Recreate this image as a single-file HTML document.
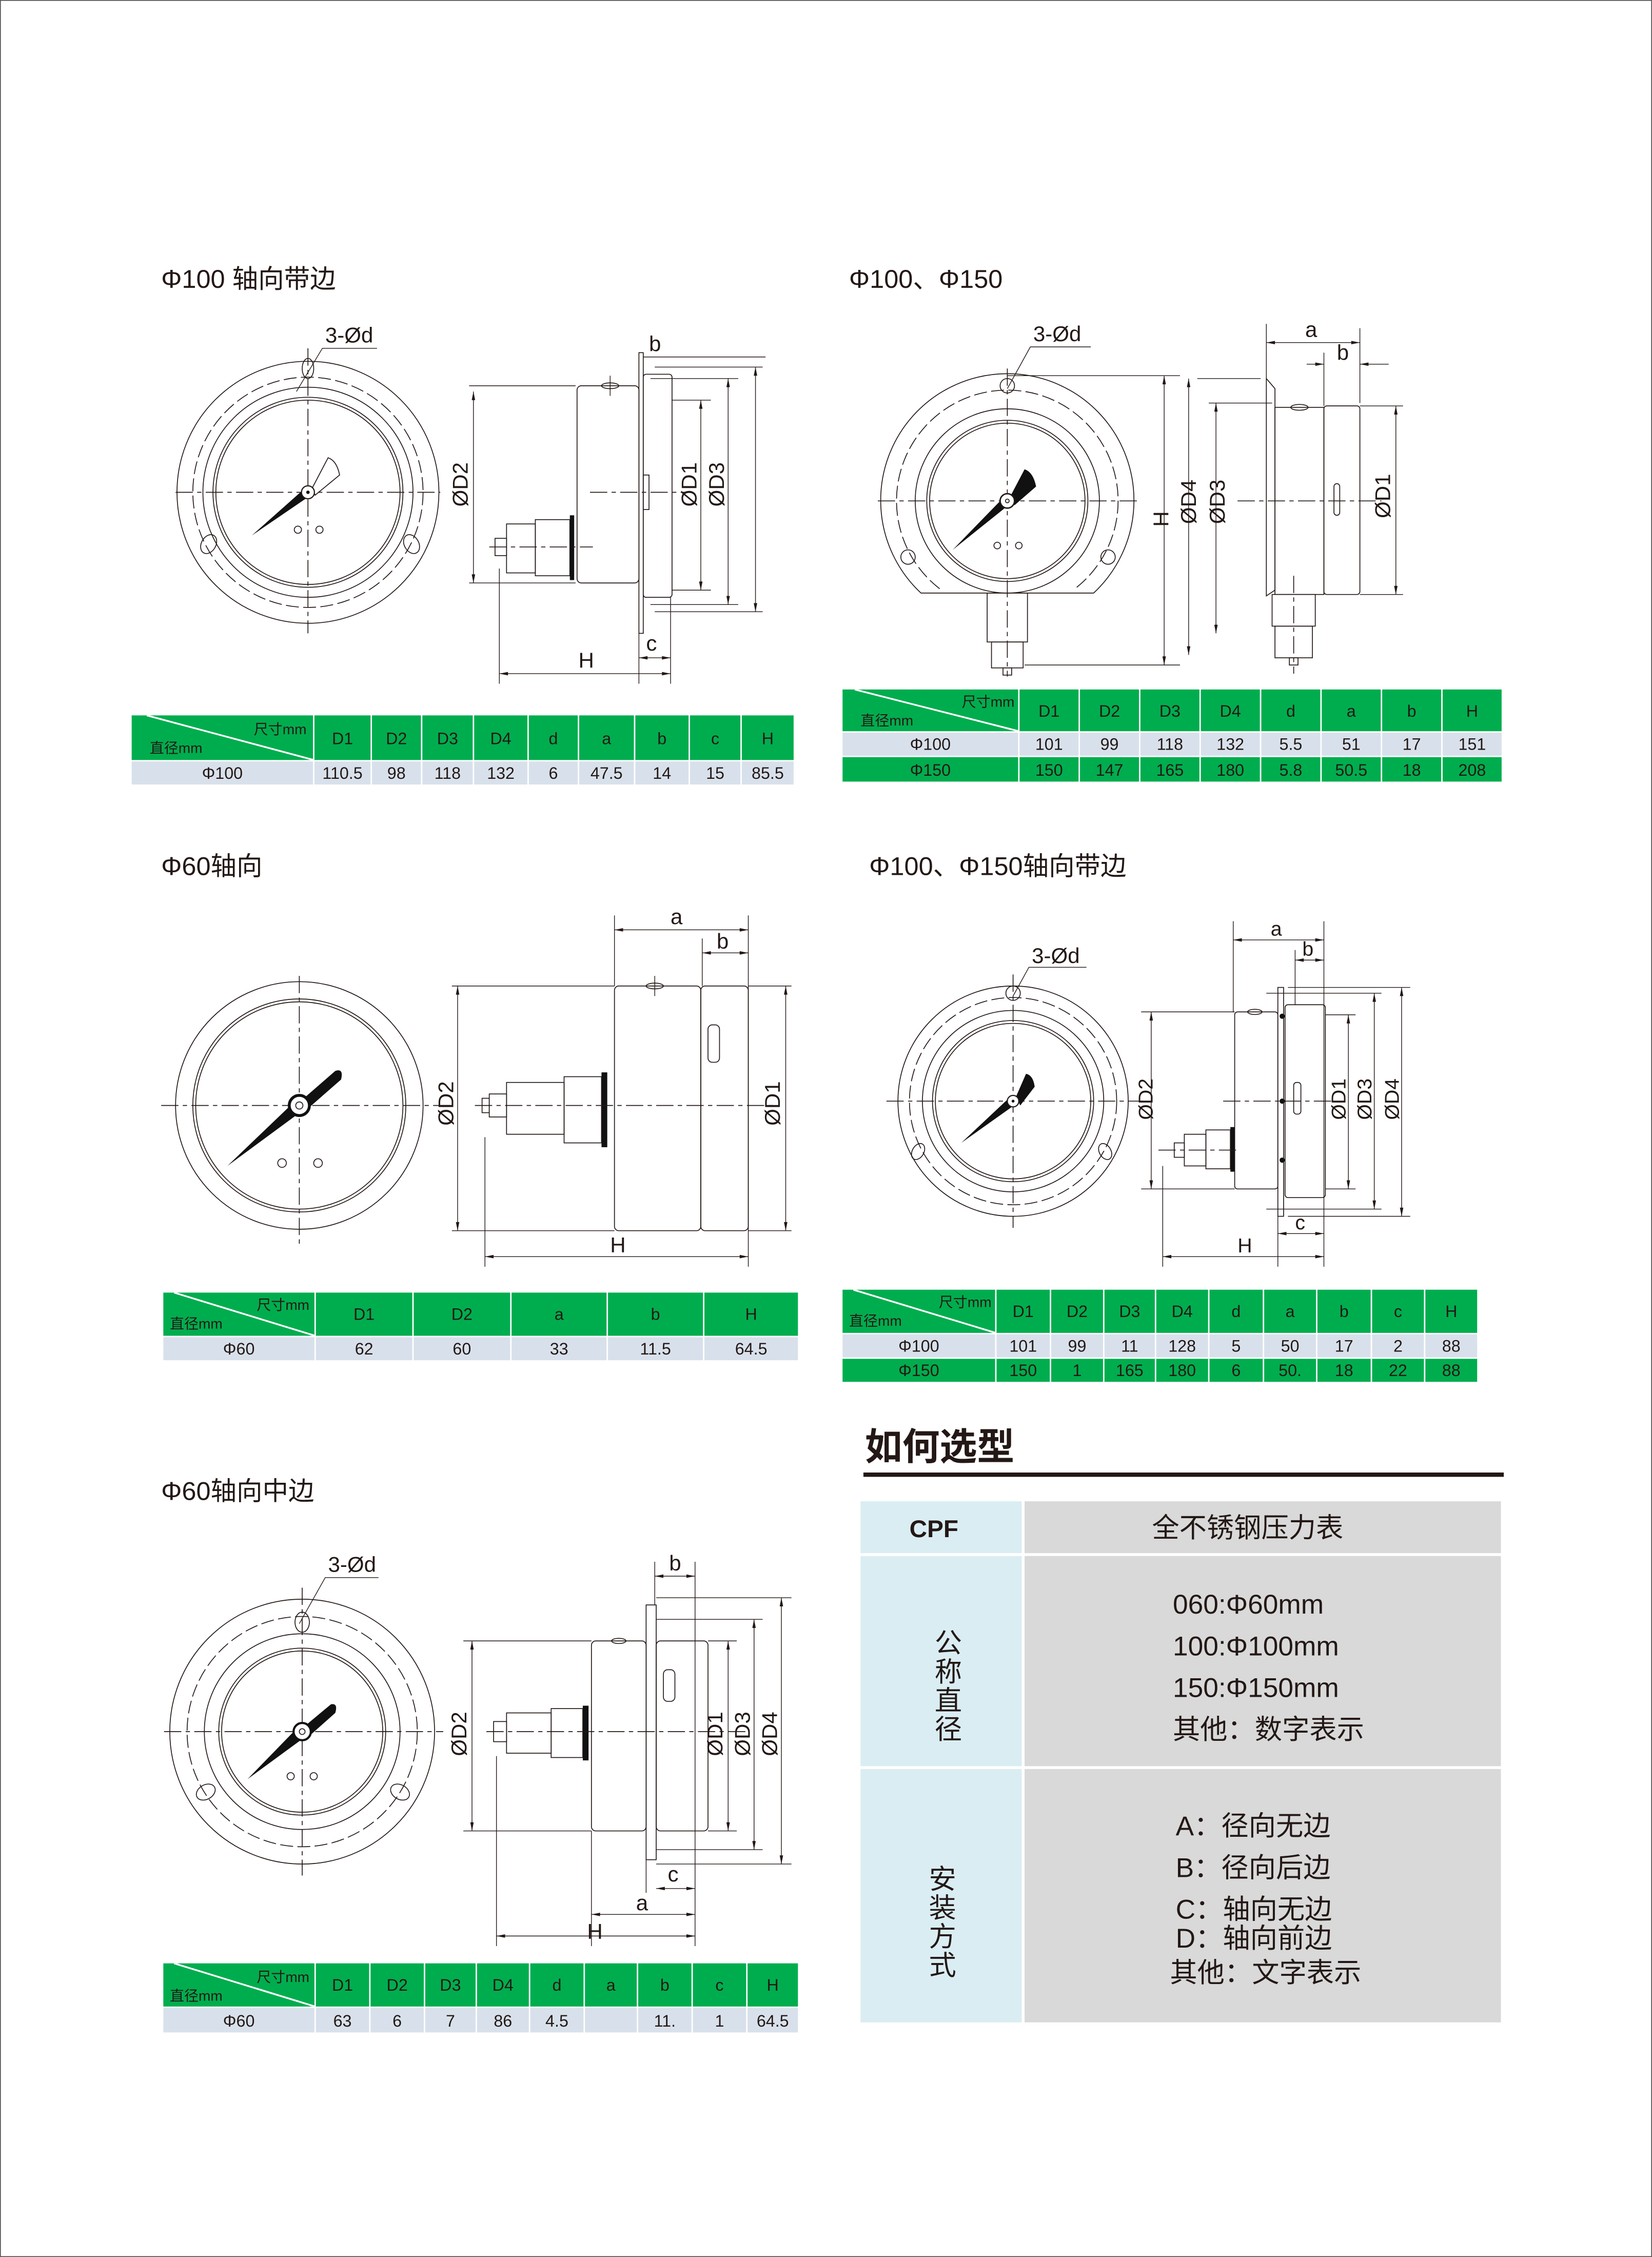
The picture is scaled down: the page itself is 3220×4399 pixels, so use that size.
<!DOCTYPE html>
<html><head><meta charset="utf-8">
<style>
html,body{margin:0;padding:0;background:#fff}
svg{display:block}
.s{fill:none;stroke:#231815;stroke-width:.6}
.d{fill:none;stroke:#231815;stroke-width:.6;stroke-dasharray:9 3}
.cl{fill:none;stroke:#231815;stroke-width:.6;stroke-dasharray:12 3 3 3}
.dm{fill:none;stroke:#231815;stroke-width:.5;marker-start:url(#a);marker-end:url(#a)}
.e{fill:none;stroke:#231815;stroke-width:.5}
.t{font-family:"Liberation Sans Narrow","Liberation Sans",sans-serif;fill:#231815;font-weight:300}
.tt{font-family:"Liberation Sans","Noto Sans CJK SC",sans-serif;fill:#231815;font-size:18px}
.tb{font-family:"Liberation Sans Narrow","Liberation Sans","Noto Sans CJK SC",sans-serif;fill:#231815;font-size:11.5px;text-anchor:middle}
.th{font-family:"Liberation Sans Narrow","Liberation Sans","Noto Sans CJK SC",sans-serif;fill:#231815;font-size:10px}
.g{fill:#00ad4e}.l{fill:#d8e1eb}
.k{fill:#111}
.sel{font-family:"Liberation Sans","Noto Sans CJK SC",sans-serif;fill:#231815;font-size:19px}
</style></head><body>
<svg width="3220" height="4399" viewBox="0 0 1148 1568" preserveAspectRatio="none" xmlns="http://www.w3.org/2000/svg">
<defs>
<marker id="a" viewBox="0 0 10 4" refX="10" refY="2" markerWidth="7" markerHeight="2.4" markerUnits="userSpaceOnUse" orient="auto-start-reverse"><path d="M0,0L10,2L0,4z" fill="#231815"/></marker>
</defs>
<rect x="0.3" y="0.3" width="1147.4" height="1567.4" fill="#fff" stroke="#555" stroke-width=".6"/>

<!-- Titles -->
<text class="tt" x="112" y="200">Φ100 轴向带边</text>
<text class="tt" x="590" y="200">Φ100、Φ150</text>
<text class="tt" x="112" y="608">Φ60轴向</text>
<text class="tt" x="604" y="608">Φ100、Φ150轴向带边</text>
<text class="tt" x="112" y="1042">Φ60轴向中边</text>

<!-- ============ Drawing 1 ============ -->
<g transform="translate(214,342)">
<circle class="s" r="91"/><circle class="d" r="80"/><circle class="s" r="73"/><circle class="s" r="66"/><circle class="s" r="64"/>
<ellipse class="s" cx="0" cy="-86" rx="4" ry="7"/>
<ellipse class="s" cx="-69" cy="36" rx="5" ry="7" transform="rotate(30 -69 36)"/>
<ellipse class="s" cx="72" cy="36" rx="5" ry="7" transform="rotate(-30 72 36)"/>
<line class="cl" x1="-92" y1="0" x2="92" y2="0"/><line class="cl" x1="0" y1="-100" x2="0" y2="98"/>
<polygon class="k" points="2,2 -39,30 -3,-2"/>
<path class="s" d="M3,-3 L14,-24 Q20,-22 22,-12 L5,2z"/>
<circle r="4.5" fill="#fff" stroke="#231815" stroke-width=".8"/><circle r="1.2" class="k"/>
<circle class="s" cx="-7" cy="26" r="2.5"/><circle class="s" cx="8" cy="26" r="2.5"/>
</g>
<text class="t" x="226" y="238" font-size="15">3-Ød</text>
<polyline class="e" points="262,242 224,242 206,272"/>
<!-- side 1 -->
<rect class="s" x="401" y="268" width="43" height="137" rx="3"/>
<rect class="s" x="444" y="245" width="3" height="195"/>
<rect class="s" x="447" y="260" width="20" height="155" rx="2"/>
<ellipse class="s" cx="424" cy="268" rx="6" ry="2"/><line class="e" x1="424" y1="261" x2="424" y2="275"/>
<rect class="s" x="447" y="330" width="4" height="24"/>
<rect class="k" x="396" y="358" width="3" height="45"/>
<rect class="s" x="372" y="361" width="24" height="39"/>
<rect class="s" x="352" y="364" width="20" height="34"/>
<rect class="s" x="344" y="374" width="8" height="12"/>
<line class="cl" x1="340" y1="380" x2="412" y2="380"/>
<line class="cl" x1="410" y1="342" x2="480" y2="342"/>
<line class="e" x1="326" y1="268" x2="400" y2="268"/><line class="e" x1="326" y1="405" x2="400" y2="405"/>
<line class="dm" x1="329" y1="272" x2="329" y2="405"/>
<text class="t" font-size="15" transform="translate(325,352) rotate(-90)">ØD2</text>
<line class="e" x1="467" y1="278" x2="494" y2="278"/><line class="e" x1="467" y1="410" x2="494" y2="410"/>
<line class="dm" x1="487" y1="278" x2="487" y2="410"/>
<text class="t" font-size="15" transform="translate(484,352) rotate(-90)">ØD1</text>
<line class="e" x1="452" y1="263" x2="513" y2="263"/><line class="e" x1="452" y1="420" x2="513" y2="420"/>
<line class="dm" x1="506" y1="263" x2="506" y2="420"/>
<text class="t" font-size="15" transform="translate(503,352) rotate(-90)">ØD3</text>
<line class="e" x1="455" y1="255" x2="530" y2="255"/><line class="e" x1="455" y1="425" x2="530" y2="425"/>
<line class="dm" x1="525" y1="255" x2="525" y2="425"/>
<line class="e" x1="447" y1="248" x2="532" y2="248"/>
<text class="t" x="451" y="244" font-size="15">b</text>
<line class="e" x1="347" y1="395" x2="347" y2="475"/><line class="e" x1="466" y1="415" x2="466" y2="475"/><line class="e" x1="444" y1="440" x2="444" y2="475"/>
<line class="dm" x1="347" y1="468" x2="466" y2="468"/>
<text class="t" x="402" y="464" font-size="15">H</text>
<line class="dm" x1="444" y1="457" x2="466" y2="457"/>
<text class="t" x="449" y="452" font-size="15">c</text>

<!-- ============ Drawing 2 ============ -->
<g transform="translate(700,348)">
<path class="s" d="M-60,64 A88,88 0 1 1 60,64 Z"/>
<path class="d" d="M-47,61 A77,77 0 1 1 47,61"/>
<circle class="s" r="64"/><circle class="s" r="56"/><circle class="s" r="54"/>
<rect class="s" x="-14" y="64" width="28" height="34" fill="#fff"/>
<rect class="s" x="-11" y="98" width="22" height="18"/>
<rect class="s" x="-3" y="116" width="6" height="5"/>
<circle class="s" cx="0" cy="-80" r="5"/><circle class="s" cx="-69" cy="39" r="5"/><circle class="s" cx="70" cy="39" r="5"/>
<line class="cl" x1="-90" y1="0" x2="92" y2="0"/><line class="cl" x1="0" y1="-92" x2="0" y2="122"/>
<polygon class="k" points="2,2 -38,34 -3,-2"/>
<path class="k" d="M2,-3 L12,-22 Q18,-20 20,-10 L5,3z"/>
<circle r="5" fill="#fff" stroke="#231815" stroke-width="1"/><circle r="1.3" class="s"/>
<circle class="s" cx="-7" cy="31" r="2.3"/><circle class="s" cx="8" cy="31" r="2.3"/>
</g>
<text class="t" x="718" y="237" font-size="15">3-Ød</text>
<polyline class="e" points="758,241 716,241 700,270"/>
<!-- side 2 -->
<polygon class="s" points="880,263 886,270 886,410 880,414"/>
<rect class="s" x="886" y="283" width="34" height="130"/>
<rect class="s" x="920" y="282" width="25" height="131" rx="2"/>
<rect class="s" x="927" y="336" width="4" height="22" rx="2"/>
<ellipse class="s" cx="903" cy="283" rx="6" ry="2"/>
<rect class="s" x="884" y="413" width="30" height="22"/>
<rect class="s" x="886" y="435" width="26" height="22"/>
<rect class="s" x="896" y="457" width="6" height="5"/>
<line class="cl" x1="860" y1="348" x2="960" y2="348"/><line class="cl" x1="899" y1="400" x2="899" y2="468"/>
<line class="e" x1="700" y1="261" x2="820" y2="261"/><line class="e" x1="712" y1="462" x2="820" y2="462"/>
<line class="dm" x1="809" y1="261" x2="809" y2="462"/>
<text class="t" font-size="15" transform="translate(812,366) rotate(-90)">H</text>
<line class="e" x1="832" y1="263" x2="876" y2="263"/>
<line class="dm" x1="826" y1="263" x2="826" y2="455"/>
<text class="t" font-size="15" transform="translate(831,364) rotate(-90)">ØD4</text>
<line class="e" x1="840" y1="280" x2="884" y2="280"/>
<line class="dm" x1="845" y1="280" x2="845" y2="440"/>
<text class="t" font-size="15" transform="translate(851,364) rotate(-90)">ØD3</text>
<line class="e" x1="945" y1="282" x2="975" y2="282"/><line class="e" x1="945" y1="413" x2="975" y2="413"/>
<line class="dm" x1="970" y1="282" x2="970" y2="413"/>
<text class="t" font-size="15" transform="translate(966,360) rotate(-90)">ØD1</text>
<line class="e" x1="880" y1="225" x2="880" y2="265"/><line class="e" x1="945" y1="228" x2="945" y2="280"/>
<line class="dm" x1="880" y1="238" x2="945" y2="238"/>
<text class="t" x="907" y="234" font-size="15">a</text>
<line class="e" x1="920" y1="245" x2="920" y2="282"/>
<line class="e" x1="908" y1="253" x2="920" y2="253" marker-end="url(#a)"/><line class="e" x1="965" y1="253" x2="945" y2="253" marker-end="url(#a)"/>
<text class="t" x="929" y="250" font-size="15">b</text>

<!-- ============ Drawing 3 ============ -->
<g transform="translate(208,768)">
<circle class="s" r="86"/><circle class="s" r="74"/><circle class="s" r="72"/>
<line class="cl" x1="-96" y1="0" x2="106" y2="0"/><line class="cl" x1="0" y1="-90" x2="0" y2="98"/>
<polygon class="k" points="3,3 -50,42 -3,-3"/>
<path class="k" d="M2,-4 L25,-24 Q31,-26 29,-18 L5,3z"/>
<circle r="7" fill="#fff" stroke="#111" stroke-width="2"/><circle r="2.5" class="s"/>
<circle class="s" cx="-12" cy="40" r="3"/><circle class="s" cx="13" cy="40" r="3"/>
</g>
<rect class="s" x="427" y="685" width="60" height="170" rx="3"/>
<rect class="s" x="487" y="685" width="33" height="170" rx="3"/>
<rect class="s" x="492" y="712" width="8" height="26" rx="3"/>
<ellipse class="s" cx="455" cy="685" rx="6" ry="2"/><line class="e" x1="455" y1="678" x2="455" y2="692"/>
<rect class="k" x="418" y="745" width="4" height="52"/>
<rect class="s" x="392" y="748" width="26" height="46"/>
<rect class="s" x="352" y="752" width="40" height="36"/>
<rect class="s" x="340" y="760" width="12" height="16"/>
<rect class="s" x="335" y="763" width="5" height="10"/>
<line class="cl" x1="330" y1="768" x2="540" y2="768"/>
<line class="e" x1="314" y1="685" x2="427" y2="685"/><line class="e" x1="314" y1="855" x2="427" y2="855"/>
<line class="dm" x1="318" y1="685" x2="318" y2="855"/>
<text class="t" font-size="15" transform="translate(315,782) rotate(-90)">ØD2</text>
<line class="e" x1="520" y1="685" x2="550" y2="685"/><line class="e" x1="520" y1="855" x2="550" y2="855"/>
<line class="dm" x1="546" y1="685" x2="546" y2="855"/>
<text class="t" font-size="15" transform="translate(542,782) rotate(-90)">ØD1</text>
<line class="e" x1="427" y1="636" x2="427" y2="685"/><line class="e" x1="520" y1="636" x2="520" y2="880"/>
<line class="dm" x1="427" y1="646" x2="520" y2="646"/>
<text class="t" x="466" y="642" font-size="15">a</text>
<line class="e" x1="488" y1="652" x2="488" y2="685"/>
<line class="dm" x1="488" y1="662" x2="520" y2="662"/>
<text class="t" x="498" y="659" font-size="15">b</text>
<line class="e" x1="337" y1="790" x2="337" y2="880"/>
<line class="dm" x1="337" y1="873" x2="520" y2="873"/>
<text class="t" x="424" y="870" font-size="15">H</text>

<!-- ============ Drawing 4 ============ -->
<g transform="translate(704,765)">
<circle class="s" r="80"/><circle class="d" r="72"/><circle class="s" r="63"/><circle class="s" r="56"/><circle class="s" r="54"/>
<circle class="s" cx="0" cy="-75" r="5"/>
<ellipse class="s" cx="-66" cy="35" rx="4" ry="6" transform="rotate(30 -66 35)"/>
<ellipse class="s" cx="64" cy="35" rx="4" ry="6" transform="rotate(-30 64 35)"/>
<line class="cl" x1="-88" y1="0" x2="90" y2="0"/><line class="cl" x1="0" y1="-88" x2="0" y2="88"/>
<polygon class="k" points="2,2 -36,29 -3,-2"/>
<path class="k" d="M2,-3 L9,-19 Q14,-18 15,-10 L5,3z"/>
<circle r="4" fill="#fff" stroke="#231815" stroke-width=".8"/><circle r="1" class="k"/>
</g>
<text class="t" x="717" y="669" font-size="15">3-Ød</text>
<polyline class="e" points="755,672 715,672 704,692"/>
<rect class="s" x="858" y="703" width="30" height="123" rx="2"/>
<rect class="s" x="888" y="686" width="4" height="159"/>
<rect class="s" x="893" y="698" width="28" height="134" rx="2"/>
<circle class="k" cx="891" cy="706" r="1.8"/><circle class="k" cx="891" cy="765" r="1.8"/><circle class="k" cx="891" cy="806" r="1.8"/>
<rect class="s" x="899" y="752" width="5" height="22" rx="2"/>
<ellipse class="s" cx="872" cy="703" rx="5" ry="1.8"/>
<rect class="k" x="855" y="783" width="3" height="31"/>
<rect class="s" x="838" y="785" width="17" height="27"/>
<rect class="s" x="823" y="788" width="15" height="22"/>
<rect class="s" x="816" y="794" width="7" height="10"/>
<line class="cl" x1="850" y1="765" x2="925" y2="765"/><line class="cl" x1="805" y1="799" x2="862" y2="799"/>
<line class="e" x1="793" y1="703" x2="858" y2="703"/><line class="e" x1="793" y1="826" x2="858" y2="826"/>
<line class="dm" x1="800" y1="703" x2="800" y2="826"/>
<text class="t" font-size="14" transform="translate(801,778) rotate(-90)">ØD2</text>
<line class="e" x1="921" y1="705" x2="942" y2="705"/><line class="e" x1="921" y1="826" x2="942" y2="826"/>
<line class="dm" x1="937" y1="705" x2="937" y2="826"/>
<text class="t" font-size="14" transform="translate(935,778) rotate(-90)">ØD1</text>
<line class="e" x1="880" y1="690" x2="960" y2="690"/><line class="e" x1="880" y1="840" x2="960" y2="840"/>
<line class="dm" x1="955" y1="690" x2="955" y2="840"/>
<text class="t" font-size="14" transform="translate(953,778) rotate(-90)">ØD3</text>
<line class="e" x1="895" y1="686" x2="980" y2="686"/><line class="e" x1="895" y1="845" x2="980" y2="845"/>
<line class="dm" x1="974" y1="686" x2="974" y2="845"/>
<text class="t" font-size="14" transform="translate(972,778) rotate(-90)">ØD4</text>
<line class="e" x1="857" y1="640" x2="857" y2="703"/><line class="e" x1="920" y1="640" x2="920" y2="880"/>
<line class="dm" x1="857" y1="653" x2="920" y2="653"/>
<text class="t" x="883" y="650" font-size="14">a</text>
<line class="e" x1="900" y1="660" x2="900" y2="698"/>
<line class="dm" x1="900" y1="667" x2="920" y2="667"/>
<text class="t" x="905" y="664" font-size="14">b</text>
<line class="e" x1="888" y1="845" x2="888" y2="880"/>
<line class="dm" x1="888" y1="857" x2="920" y2="857"/>
<text class="t" x="900" y="854" font-size="14">c</text>
<line class="e" x1="808" y1="810" x2="808" y2="880"/>
<line class="dm" x1="808" y1="873" x2="920" y2="873"/>
<text class="t" x="860" y="870" font-size="14">H</text>

<!-- ============ Drawing 5 ============ -->
<g transform="translate(210,1203)">
<circle class="s" r="92"/><circle class="d" r="80"/><circle class="s" r="68"/><circle class="s" r="58"/><circle class="s" r="56"/>
<ellipse class="s" cx="0" cy="-76" rx="5" ry="7"/>
<ellipse class="s" cx="-67" cy="42" rx="5" ry="7" transform="rotate(60 -67 42)"/>
<ellipse class="s" cx="68" cy="42" rx="5" ry="7" transform="rotate(-60 68 42)"/>
<line class="cl" x1="-96" y1="0" x2="98" y2="0"/><line class="cl" x1="0" y1="-100" x2="0" y2="100"/>
<polygon class="k" points="3,3 -38,33 -3,-3"/>
<path class="k" d="M2,-4 L20,-19 Q25,-20 23,-13 L5,3z"/>
<circle r="6" fill="#fff" stroke="#111" stroke-width="1.5"/><circle r="2" class="s"/>
<circle class="s" cx="-8" cy="31" r="2.5"/><circle class="s" cx="8" cy="31" r="2.5"/>
</g>
<text class="t" x="228" y="1092" font-size="15">3-Ød</text>
<polyline class="e" points="263,1096 226,1096 208,1128"/>
<rect class="s" x="411" y="1140" width="38" height="132" rx="3"/>
<rect class="s" x="449" y="1115" width="7" height="177"/>
<rect class="s" x="456" y="1140" width="36" height="132" rx="3"/>
<rect class="s" x="461" y="1160" width="8" height="22" rx="3"/>
<ellipse class="s" cx="430" cy="1140" rx="5" ry="1.8"/>
<rect class="k" x="405" y="1185" width="4" height="38"/>
<rect class="s" x="383" y="1187" width="22" height="34"/>
<rect class="s" x="352" y="1190" width="31" height="28"/>
<rect class="s" x="343" y="1196" width="9" height="14"/>
<line class="cl" x1="338" y1="1203" x2="520" y2="1203"/>
<line class="e" x1="322" y1="1140" x2="411" y2="1140"/><line class="e" x1="322" y1="1272" x2="411" y2="1272"/>
<line class="dm" x1="328" y1="1140" x2="328" y2="1272"/>
<text class="t" font-size="15" transform="translate(324,1220) rotate(-90)">ØD2</text>
<line class="e" x1="492" y1="1140" x2="512" y2="1140"/><line class="e" x1="492" y1="1272" x2="512" y2="1272"/>
<line class="dm" x1="506" y1="1140" x2="506" y2="1272"/>
<text class="t" font-size="15" transform="translate(502,1220) rotate(-90)">ØD1</text>
<line class="e" x1="456" y1="1125" x2="530" y2="1125"/><line class="e" x1="456" y1="1285" x2="530" y2="1285"/>
<line class="dm" x1="524" y1="1125" x2="524" y2="1285"/>
<text class="t" font-size="15" transform="translate(521,1220) rotate(-90)">ØD3</text>
<line class="e" x1="456" y1="1110" x2="550" y2="1110"/><line class="e" x1="456" y1="1295" x2="550" y2="1295"/>
<line class="dm" x1="543" y1="1110" x2="543" y2="1295"/>
<text class="t" font-size="15" transform="translate(540,1220) rotate(-90)">ØD4</text>
<line class="e" x1="455" y1="1085" x2="455" y2="1115"/><line class="e" x1="483" y1="1085" x2="483" y2="1352"/>
<line class="dm" x1="455" y1="1095" x2="483" y2="1095"/>
<text class="t" x="465" y="1091" font-size="15">b</text>
<line class="e" x1="449" y1="1292" x2="449" y2="1315"/>
<line class="dm" x1="456" y1="1312" x2="483" y2="1312"/>
<text class="t" x="464" y="1307" font-size="15">c</text>
<line class="e" x1="411" y1="1272" x2="411" y2="1352"/>
<line class="dm" x1="411" y1="1330" x2="483" y2="1330"/>
<text class="t" x="442" y="1327" font-size="15">a</text>
<line class="e" x1="345" y1="1220" x2="345" y2="1352"/>
<line class="dm" x1="345" y1="1345" x2="483" y2="1345"/>
<text class="t" x="408" y="1347" font-size="15">H</text>

<!-- ============ Table 1 ============ -->
<g>
<rect class="g" x="91.5" y="497" width="126" height="31"/>
<rect class="g" x="218.5" y="497" width="39" height="31"/><rect class="g" x="258.5" y="497" width="34" height="31"/><rect class="g" x="293.5" y="497" width="35" height="31"/><rect class="g" x="329.5" y="497" width="37" height="31"/><rect class="g" x="367.5" y="497" width="34" height="31"/><rect class="g" x="402.5" y="497" width="38" height="31"/><rect class="g" x="441.5" y="497" width="37" height="31"/><rect class="g" x="479.5" y="497" width="35" height="31"/><rect class="g" x="515.5" y="497" width="36" height="31"/>
<rect class="l" x="91.5" y="529" width="126" height="16"/>
<rect class="l" x="218.5" y="529" width="39" height="16"/><rect class="l" x="258.5" y="529" width="34" height="16"/><rect class="l" x="293.5" y="529" width="35" height="16"/><rect class="l" x="329.5" y="529" width="37" height="16"/><rect class="l" x="367.5" y="529" width="34" height="16"/><rect class="l" x="402.5" y="529" width="38" height="16"/><rect class="l" x="441.5" y="529" width="37" height="16"/><rect class="l" x="479.5" y="529" width="35" height="16"/><rect class="l" x="515.5" y="529" width="36" height="16"/>
<line x1="102" y1="497" x2="218" y2="528" stroke="#fff" stroke-width="1.2"/>
<text class="th" x="213" y="510" text-anchor="end">尺寸mm</text><text class="th" x="104" y="523">直径mm</text>
<text class="tb" y="517"><tspan x="238">D1</tspan><tspan x="275.5">D2</tspan><tspan x="311">D3</tspan><tspan x="348">D4</tspan><tspan x="384.5">d</tspan><tspan x="421.5">a</tspan><tspan x="460">b</tspan><tspan x="497">c</tspan><tspan x="533.5">H</tspan></text>
<text class="tb" y="541"><tspan x="154.5">Φ100</tspan><tspan x="238">110.5</tspan><tspan x="275.5">98</tspan><tspan x="311">118</tspan><tspan x="348">132</tspan><tspan x="384.5">6</tspan><tspan x="421.5">47.5</tspan><tspan x="460">14</tspan><tspan x="497">15</tspan><tspan x="533.5">85.5</tspan></text>
</g>

<!-- ============ Table 2 ============ -->
<g>
<rect class="g" x="585.5" y="479" width="122" height="29"/>
<rect class="g" x="708.5" y="479" width="41" height="29"/><rect class="g" x="750.5" y="479" width="41" height="29"/><rect class="g" x="792.5" y="479" width="41" height="29"/><rect class="g" x="834.5" y="479" width="41" height="29"/><rect class="g" x="876.5" y="479" width="41" height="29"/><rect class="g" x="918.5" y="479" width="41" height="29"/><rect class="g" x="960.5" y="479" width="41" height="29"/><rect class="g" x="1002.5" y="479" width="41" height="29"/>
<rect class="l" x="585.5" y="509" width="122" height="16"/>
<rect class="l" x="708.5" y="509" width="41" height="16"/><rect class="l" x="750.5" y="509" width="41" height="16"/><rect class="l" x="792.5" y="509" width="41" height="16"/><rect class="l" x="834.5" y="509" width="41" height="16"/><rect class="l" x="876.5" y="509" width="41" height="16"/><rect class="l" x="918.5" y="509" width="41" height="16"/><rect class="l" x="960.5" y="509" width="41" height="16"/><rect class="l" x="1002.5" y="509" width="41" height="16"/>
<rect class="g" x="585.5" y="526" width="122" height="17"/>
<rect class="g" x="708.5" y="526" width="41" height="17"/><rect class="g" x="750.5" y="526" width="41" height="17"/><rect class="g" x="792.5" y="526" width="41" height="17"/><rect class="g" x="834.5" y="526" width="41" height="17"/><rect class="g" x="876.5" y="526" width="41" height="17"/><rect class="g" x="918.5" y="526" width="41" height="17"/><rect class="g" x="960.5" y="526" width="41" height="17"/><rect class="g" x="1002.5" y="526" width="41" height="17"/>
<line x1="594" y1="479" x2="708" y2="508" stroke="#fff" stroke-width="1.2"/>
<text class="th" x="705" y="491" text-anchor="end">尺寸mm</text><text class="th" x="598" y="504">直径mm</text>
<text class="tb" y="498"><tspan x="729">D1</tspan><tspan x="771">D2</tspan><tspan x="813">D3</tspan><tspan x="855">D4</tspan><tspan x="897">d</tspan><tspan x="939">a</tspan><tspan x="981">b</tspan><tspan x="1023">H</tspan></text>
<text class="tb" y="521"><tspan x="646.5">Φ100</tspan><tspan x="729">101</tspan><tspan x="771">99</tspan><tspan x="813">118</tspan><tspan x="855">132</tspan><tspan x="897">5.5</tspan><tspan x="939">51</tspan><tspan x="981">17</tspan><tspan x="1023">151</tspan></text>
<text class="tb" y="539"><tspan x="646.5">Φ150</tspan><tspan x="729">150</tspan><tspan x="771">147</tspan><tspan x="813">165</tspan><tspan x="855">180</tspan><tspan x="897">5.8</tspan><tspan x="939">50.5</tspan><tspan x="981">18</tspan><tspan x="1023">208</tspan></text>
</g>

<!-- ============ Table 3 ============ -->
<g>
<rect class="g" x="113.5" y="898" width="105" height="30"/>
<rect class="g" x="219.5" y="898" width="67" height="30"/><rect class="g" x="287.5" y="898" width="67" height="30"/><rect class="g" x="355.5" y="898" width="66" height="30"/><rect class="g" x="422.5" y="898" width="66" height="30"/><rect class="g" x="489.5" y="898" width="65" height="30"/>
<rect class="l" x="113.5" y="929" width="105" height="16"/>
<rect class="l" x="219.5" y="929" width="67" height="16"/><rect class="l" x="287.5" y="929" width="67" height="16"/><rect class="l" x="355.5" y="929" width="66" height="16"/><rect class="l" x="422.5" y="929" width="66" height="16"/><rect class="l" x="489.5" y="929" width="65" height="16"/>
<line x1="121" y1="898" x2="219" y2="928" stroke="#fff" stroke-width="1.2"/>
<text class="th" x="215" y="910" text-anchor="end">尺寸mm</text><text class="th" x="118" y="923">直径mm</text>
<text class="tb" y="917"><tspan x="253">D1</tspan><tspan x="321">D2</tspan><tspan x="388.5">a</tspan><tspan x="455.5">b</tspan><tspan x="522">H</tspan></text>
<text class="tb" y="941"><tspan x="166">Φ60</tspan><tspan x="253">62</tspan><tspan x="321">60</tspan><tspan x="388.5">33</tspan><tspan x="455.5">11.5</tspan><tspan x="522">64.5</tspan></text>
</g>

<!-- ============ Table 4 ============ -->
<g>
<rect class="g" x="585.5" y="896" width="106" height="30"/>
<rect class="g" x="692.5" y="896" width="37" height="30"/><rect class="g" x="730.5" y="896" width="36" height="30"/><rect class="g" x="767.5" y="896" width="35" height="30"/><rect class="g" x="803.5" y="896" width="36" height="30"/><rect class="g" x="840.5" y="896" width="37" height="30"/><rect class="g" x="878.5" y="896" width="36" height="30"/><rect class="g" x="915.5" y="896" width="37" height="30"/><rect class="g" x="953.5" y="896" width="36" height="30"/><rect class="g" x="990.5" y="896" width="36" height="30"/>
<rect class="l" x="585.5" y="927" width="106" height="16"/>
<rect class="l" x="692.5" y="927" width="37" height="16"/><rect class="l" x="730.5" y="927" width="36" height="16"/><rect class="l" x="767.5" y="927" width="35" height="16"/><rect class="l" x="803.5" y="927" width="36" height="16"/><rect class="l" x="840.5" y="927" width="37" height="16"/><rect class="l" x="878.5" y="927" width="36" height="16"/><rect class="l" x="915.5" y="927" width="37" height="16"/><rect class="l" x="953.5" y="927" width="36" height="16"/><rect class="l" x="990.5" y="927" width="36" height="16"/>
<rect class="g" x="585.5" y="944" width="106" height="16"/>
<rect class="g" x="692.5" y="944" width="37" height="16"/><rect class="g" x="730.5" y="944" width="36" height="16"/><rect class="g" x="767.5" y="944" width="35" height="16"/><rect class="g" x="803.5" y="944" width="36" height="16"/><rect class="g" x="840.5" y="944" width="37" height="16"/><rect class="g" x="878.5" y="944" width="36" height="16"/><rect class="g" x="915.5" y="944" width="37" height="16"/><rect class="g" x="953.5" y="944" width="36" height="16"/><rect class="g" x="990.5" y="944" width="36" height="16"/>
<line x1="593" y1="896" x2="692" y2="926" stroke="#fff" stroke-width="1.2"/>
<text class="th" x="689" y="908" text-anchor="end">尺寸mm</text><text class="th" x="590" y="921">直径mm</text>
<text class="tb" y="915"><tspan x="711">D1</tspan><tspan x="748.5">D2</tspan><tspan x="785">D3</tspan><tspan x="821.5">D4</tspan><tspan x="859">d</tspan><tspan x="896.5">a</tspan><tspan x="934">b</tspan><tspan x="971.5">c</tspan><tspan x="1008.5">H</tspan></text>
<text class="tb" y="939"><tspan x="638.5">Φ100</tspan><tspan x="711">101</tspan><tspan x="748.5">99</tspan><tspan x="785">11</tspan><tspan x="821.5">128</tspan><tspan x="859">5</tspan><tspan x="896.5">50</tspan><tspan x="934">17</tspan><tspan x="971.5">2</tspan><tspan x="1008.5">88</tspan></text>
<text class="tb" y="956"><tspan x="638.5">Φ150</tspan><tspan x="711">150</tspan><tspan x="748.5">1</tspan><tspan x="785">165</tspan><tspan x="821.5">180</tspan><tspan x="859">6</tspan><tspan x="896.5">50.</tspan><tspan x="934">18</tspan><tspan x="971.5">22</tspan><tspan x="1008.5">88</tspan></text>
</g>

<!-- ============ Table 5 ============ -->
<g>
<rect class="g" x="113.5" y="1364" width="105" height="30"/>
<rect class="g" x="219.5" y="1364" width="37" height="30"/><rect class="g" x="257.5" y="1364" width="37" height="30"/><rect class="g" x="295.5" y="1364" width="35" height="30"/><rect class="g" x="331.5" y="1364" width="36" height="30"/><rect class="g" x="368.5" y="1364" width="37" height="30"/><rect class="g" x="406.5" y="1364" width="36" height="30"/><rect class="g" x="443.5" y="1364" width="37" height="30"/><rect class="g" x="481.5" y="1364" width="37" height="30"/><rect class="g" x="519.5" y="1364" width="35" height="30"/>
<rect class="l" x="113.5" y="1395" width="105" height="17"/>
<rect class="l" x="219.5" y="1395" width="37" height="17"/><rect class="l" x="257.5" y="1395" width="37" height="17"/><rect class="l" x="295.5" y="1395" width="35" height="17"/><rect class="l" x="331.5" y="1395" width="36" height="17"/><rect class="l" x="368.5" y="1395" width="37" height="17"/><rect class="l" x="406.5" y="1395" width="36" height="17"/><rect class="l" x="443.5" y="1395" width="37" height="17"/><rect class="l" x="481.5" y="1395" width="37" height="17"/><rect class="l" x="519.5" y="1395" width="35" height="17"/>
<line x1="121" y1="1364" x2="219" y2="1394" stroke="#fff" stroke-width="1.2"/>
<text class="th" x="215" y="1377" text-anchor="end">尺寸mm</text><text class="th" x="118" y="1390">直径mm</text>
<text class="tb" y="1383"><tspan x="238">D1</tspan><tspan x="276">D2</tspan><tspan x="313">D3</tspan><tspan x="349.5">D4</tspan><tspan x="387">d</tspan><tspan x="424.5">a</tspan><tspan x="462">b</tspan><tspan x="500">c</tspan><tspan x="537">H</tspan></text>
<text class="tb" y="1408"><tspan x="166">Φ60</tspan><tspan x="238">63</tspan><tspan x="276">6</tspan><tspan x="313">7</tspan><tspan x="349.5">86</tspan><tspan x="387">4.5</tspan><tspan x="462">11.</tspan><tspan x="500">1</tspan><tspan x="537">64.5</tspan></text>
</g>

<!-- ============ Selection ============ -->
<text x="601" y="1014" font-family="Liberation Sans,Noto Sans CJK SC,sans-serif" font-weight="bold" font-size="26" fill="#231815">如何选型</text>
<rect x="600" y="1023" width="445" height="3" fill="#231815"/>
<rect x="598" y="1043" width="112" height="36" fill="#daedf3"/>
<rect x="712" y="1043" width="331" height="36" fill="#d9d9d9"/>
<rect x="598" y="1081" width="112" height="146" fill="#daedf3"/>
<rect x="712" y="1081" width="331" height="146" fill="#d9d9d9"/>
<rect x="598" y="1229" width="112" height="176" fill="#daedf3"/>
<rect x="712" y="1229" width="331" height="176" fill="#d9d9d9"/>
<text x="649" y="1068" text-anchor="middle" font-family="Liberation Sans,sans-serif" font-weight="bold" font-size="17" fill="#231815">CPF</text>
<text class="sel" x="867" y="1068" text-anchor="middle">全不锈钢压力表</text>
<text class="sel" x="815" y="1121">060:Φ60mm</text>
<text class="sel" x="815" y="1150">100:Φ100mm</text>
<text class="sel" x="815" y="1179">150:Φ150mm</text>
<text class="sel" x="815" y="1208">其他：数字表示</text>
<text class="sel" x="817" y="1275">A：径向无边</text>
<text class="sel" x="817" y="1304">B：径向后边</text>
<text class="sel" x="817" y="1333">C：轴向无边</text>
<text class="sel" x="817" y="1353">D：轴向前边</text>
<text class="sel" x="813" y="1377">其他：文字表示</text>
<text class="sel" text-anchor="middle" x="659"><tspan x="659" y="1148">公</tspan><tspan x="659" y="1168">称</tspan><tspan x="659" y="1188">直</tspan><tspan x="659" y="1208">径</tspan></text>
<text class="sel" text-anchor="middle" x="655"><tspan x="655" y="1312">安</tspan><tspan x="655" y="1332">装</tspan><tspan x="655" y="1352">方</tspan><tspan x="655" y="1372">式</tspan></text>
</svg>
</body></html>
